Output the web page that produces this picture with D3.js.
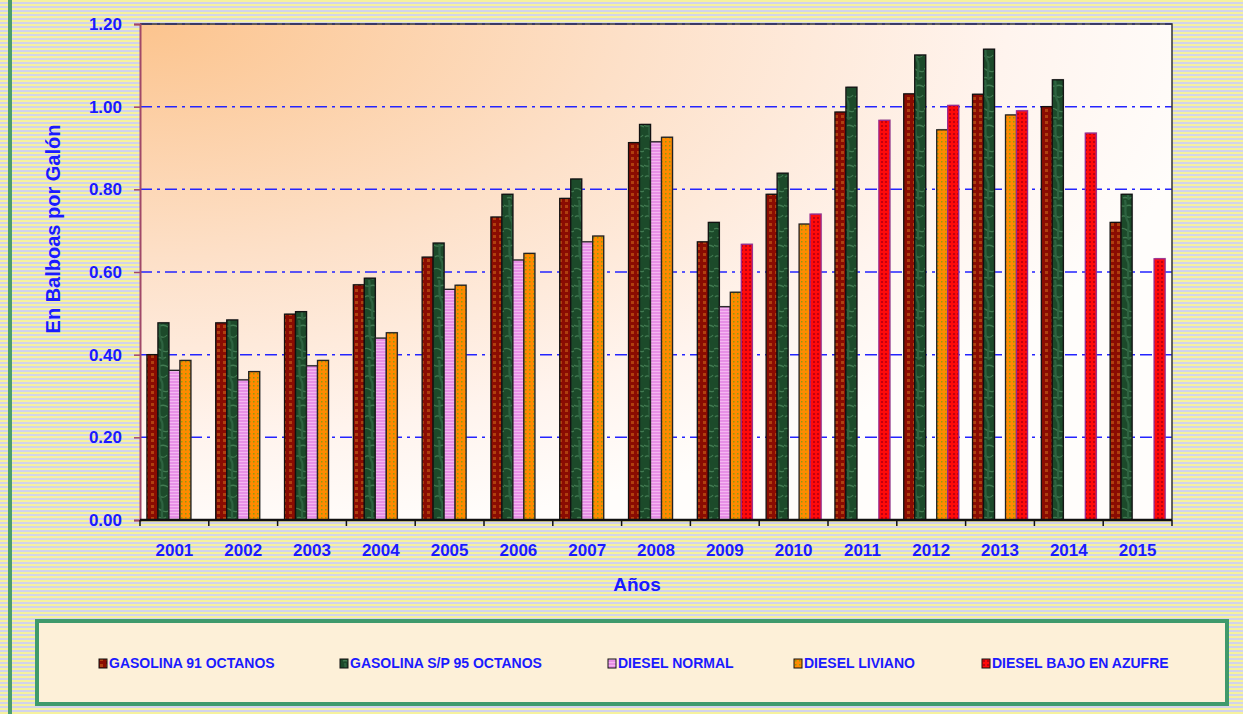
<!DOCTYPE html>
<html>
<head>
<meta charset="utf-8">
<script src="https://cdn.jsdelivr.net/npm/d3@7"></script>
<style>
  body { margin: 0; background: #fff; }
  svg { display: block; font-family: Arial, "Liberation Sans", sans-serif; }
</style>
</head>
<body>
<div id="chart"></div>
<script>
// Data
const years = ["2001","2002","2003","2004","2005","2006","2007","2008","2009","2010","2011","2012","2013","2014","2015"];
const seriesNames = ["GASOLINA 91 OCTANOS","GASOLINA S/P 95 OCTANOS","DIESEL NORMAL","DIESEL LIVIANO","DIESEL BAJO EN AZUFRE"];
const gasolina91 = [0.400,0.477,0.498,0.569,0.636,0.733,0.778,0.913,0.673,0.788,0.987,1.031,1.030,1.000,0.720];
const gasolina95 = [0.477,0.484,0.504,0.585,0.670,0.788,0.825,0.957,0.720,0.839,1.047,1.125,1.139,1.065,0.788];
const dieselNormal = [0.362,0.339,0.373,0.440,0.558,0.629,0.673,0.915,0.516,null,null,null,null,null,null];
const dieselLiviano = [0.386,0.359,0.386,0.453,0.568,0.645,0.687,0.926,0.551,0.716,null,0.944,0.980,null,null];
const dieselBajo = [null,null,null,null,null,null,null,null,0.667,0.740,0.967,1.003,0.990,0.936,0.632];
const yTicks = [0,0.2,0.4,0.6,0.8,1.0,1.2];

const seriesValues = [gasolina91, gasolina95, dieselNormal, dieselLiviano, dieselBajo];

const width = 1243, height = 714;
const margin = {top: 24, right: 71, bottom: 194, left: 140};

const svg = d3.select("#chart").append("svg")
    .attr("width", width)
    .attr("height", height);

const defs = svg.append("defs");

// striped page background
const bg = defs.append("pattern").attr("id", "stripes")
    .attr("width", 8).attr("height", 4).attr("patternUnits", "userSpaceOnUse");
bg.append("rect").attr("width", 8).attr("height", 4).attr("fill", "#f6f29e");
bg.append("rect").attr("y", 2).attr("width", 8).attr("height", 2).attr("fill", "#d2d3ec");

// plot gradient (peach top-left fading to white)
const grad = defs.append("radialGradient").attr("id", "plotGrad")
    .attr("cx", 0).attr("cy", 0).attr("r", 1.05).attr("fx", 0).attr("fy", 0);
grad.append("stop").attr("offset", 0).attr("stop-color", "#fcc48e");
grad.append("stop").attr("offset", 0.45).attr("stop-color", "#fde0c8");
grad.append("stop").attr("offset", 0.8).attr("stop-color", "#fff4ee");
grad.append("stop").attr("offset", 1).attr("stop-color", "#fffdfb");

// bar textures
function makePattern(id, w, h, base, draw) {
    const p = defs.append("pattern").attr("id", id)
        .attr("width", w).attr("height", h).attr("patternUnits", "userSpaceOnUse");
    p.append("rect").attr("width", w).attr("height", h).attr("fill", base);
    draw(p);
}
makePattern("pG91", 6, 6, "#8a0c02", p => {
    p.append("rect").attr("x", 1).attr("y", 1).attr("width", 3).attr("height", 3).attr("fill", "#b0400f");
});
makePattern("pG95", 14, 40, "#1c4a2a", p => {
    p.append("path").attr("d", "M0,5 C4,9 8,2 14,7 M1,17 C5,13 9,21 13,15 M0,29 C6,26 7,34 14,31 M3,38 C6,36 9,40 12,37")
        .attr("stroke", "#4e8a5e").attr("stroke-width", 1.3).attr("fill", "none").attr("opacity", 0.75);
    p.append("path").attr("d", "M5,0 C7,8 3,14 8,22 C10,28 6,34 9,40")
        .attr("stroke", "#2d6340").attr("stroke-width", 2.2).attr("fill", "none");
});
makePattern("pDN", 4, 3, "#e78fe6", p => {
    p.append("rect").attr("y", 2).attr("width", 4).attr("height", 1).attr("fill", "#f4b6f0");
});
makePattern("pDL", 4, 4, "#ff8a00", p => {
    p.append("rect").attr("x", 1).attr("y", 1).attr("width", 1.5).attr("height", 1.5).attr("fill", "#8f9a10");
});
makePattern("pDB", 4, 4, "#ff0a0a", p => {
    p.append("rect").attr("x", 1).attr("y", 1).attr("width", 2).attr("height", 2).attr("fill", "#c00010");
});
const fills = ["url(#pG91)","url(#pG95)","url(#pDN)","url(#pDL)","url(#pDB)"];
const strokes = ["#111","#111","#222","#222","#9a2a90"];

// page background and left green border
svg.append("rect").attr("width", width).attr("height", height).attr("fill", "url(#stripes)");
svg.append("rect").attr("x", 8).attr("y", 0).attr("width", 4).attr("height", height).attr("fill", "#4c9e6c");

// scales
const x0 = d3.scaleBand()
    .domain(years)
    .range([margin.left, width - margin.right]);

const x1 = d3.scaleBand()
    .domain(seriesNames)
    .range([0, x0.bandwidth()])
    .paddingOuter(0.63);

const y = d3.scaleLinear()
    .domain([0, 1.2])
    .range([height - margin.bottom, margin.top]);

const plotW = width - margin.left - margin.right;
const plotH = height - margin.top - margin.bottom;

// plot area
svg.append("rect")
    .attr("x", margin.left).attr("y", margin.top)
    .attr("width", plotW).attr("height", plotH)
    .attr("fill", "url(#plotGrad)");

// gridlines (dash-dot blue)
svg.append("g").selectAll("line")
    .data(yTicks.filter(d => d > 0))
    .enter().append("line")
    .attr("x1", margin.left).attr("x2", width - margin.right)
    .attr("y1", d => y(d)).attr("y2", d => y(d))
    .attr("stroke", "#2424ff")
    .attr("stroke-width", 1.5)
    .attr("stroke-dasharray", "12,5,3,5");

// top and right frame
svg.append("path")
    .attr("d", `M${margin.left},${margin.top}H${width - margin.right}V${height - margin.bottom}`)
    .attr("fill", "none").attr("stroke", "#333").attr("stroke-width", 1.5);

// bars
const rows = [];
years.forEach((yr, i) => {
    seriesNames.forEach((s, j) => {
        const v = seriesValues[j][i];
        if (v != null) rows.push({year: yr, series: s, idx: j, value: v});
    });
});

const barG = svg.append("g");
// soft shadow
barG.selectAll("rect.shadow")
    .data(rows)
    .enter().append("rect")
    .attr("class", "shadow")
    .attr("x", d => x0(d.year) + x1(d.series) + 1)
    .attr("y", d => y(d.value) - 1)
    .attr("width", x1.bandwidth())
    .attr("height", d => y(0) - y(d.value) + 1)
    .attr("fill", "#888").attr("opacity", 0.35);

barG.selectAll("rect.bar")
    .data(rows)
    .enter().append("rect")
    .attr("class", "bar")
    .attr("x", d => x0(d.year) + x1(d.series))
    .attr("y", d => y(d.value))
    .attr("width", x1.bandwidth())
    .attr("height", d => y(0) - y(d.value))
    .attr("fill", d => fills[d.idx])
    .attr("stroke", d => strokes[d.idx])
    .attr("stroke-width", 1.3);

// y axis
const yAxis = svg.append("g")
    .attr("transform", `translate(${margin.left},0)`)
    .call(d3.axisLeft(y).tickValues(yTicks).tickFormat(d3.format(".2f")).tickSize(6).tickPadding(12));
yAxis.select(".domain").attr("stroke", "#a04868").attr("stroke-width", 2);
yAxis.selectAll(".tick line").attr("stroke", "#a04868").attr("stroke-width", 1.5);
yAxis.selectAll(".tick text")
    .attr("fill", "#1a1aff")
    .style("font-size", "17px")
    .style("font-weight", "bold");

// x axis: labels at band centers, ticks at band edges
const xAxis = svg.append("g")
    .attr("transform", `translate(0,${height - margin.bottom})`)
    .call(d3.axisBottom(x0).tickSize(0).tickPadding(24));
xAxis.select(".domain").remove();
xAxis.selectAll(".tick text")
    .attr("fill", "#1a1aff")
    .style("font-size", "17px")
    .style("font-weight", "bold");

const edges = years.map(d => x0(d)).concat([x0.range()[1]]);
svg.append("g").selectAll("line")
    .data(edges)
    .enter().append("line")
    .attr("x1", d => d).attr("x2", d => d)
    .attr("y1", y(0)).attr("y2", y(0) + 6)
    .attr("stroke", "#111").attr("stroke-width", 1.5);
svg.append("line")
    .attr("x1", margin.left).attr("x2", width - margin.right)
    .attr("y1", y(0)).attr("y2", y(0))
    .attr("stroke", "#111").attr("stroke-width", 2.5);

// axis titles
svg.append("text")
    .attr("x", 637).attr("y", 591)
    .attr("text-anchor", "middle")
    .attr("fill", "#1a1aff")
    .style("font-size", "19px").style("font-weight", "bold")
    .text("Años");

svg.append("text")
    .attr("transform", "translate(60,229) rotate(-90)")
    .attr("text-anchor", "middle")
    .attr("fill", "#1a1aff")
    .style("font-size", "20px").style("font-weight", "bold")
    .text("En Balboas por Galón");

// legend
svg.append("rect")
    .attr("x", 37).attr("y", 621)
    .attr("width", 1190).attr("height", 83)
    .attr("fill", "#fdf0d8")
    .attr("stroke", "#3f9a6c").attr("stroke-width", 4);

const legendX = [99, 340, 608, 794, 982];
const legend = svg.append("g").selectAll("g")
    .data(seriesNames)
    .enter().append("g")
    .attr("transform", (d, i) => `translate(${legendX[i]},663)`);
legend.append("rect")
    .attr("x", 0).attr("y", -4)
    .attr("width", 8).attr("height", 9)
    .attr("fill", (d, i) => fills[i])
    .attr("stroke", "#111").attr("stroke-width", 1);
legend.append("text")
    .attr("x", 10).attr("y", 5)
    .attr("fill", "#1a1aff")
    .style("font-size", "14px").style("font-weight", "bold")
    .text(d => d);
</script>
</body>
</html>
